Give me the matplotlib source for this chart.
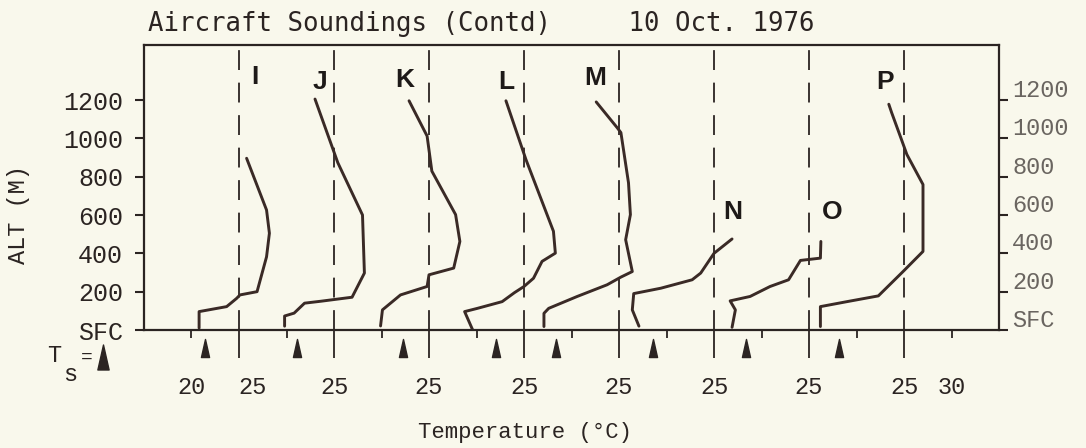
import numpy as np
import matplotlib.pyplot as plt
from matplotlib.path import Path
from matplotlib.lines import Line2D
from matplotlib.transforms import ScaledTranslation

# soundings, each one shifted 10 C to the right of the previous
names = ['I', 'J', 'K', 'L', 'M', 'N', 'O', 'P']

# temperature (C) and altitude (m)
temp_I = [20.8, 20.8, 23.7, 24.75, 25.1, 26.9, 27.9, 28.2, 27.9, 25.8]
alt_I = [10, 96, 122, 165, 183, 200, 382, 505, 626, 896]
temp_J = [19.8, 19.8, 20.8, 21.9, 23.6, 26.9, 28.2, 28.0, 25.4, 23.0]
alt_J = [20, 73, 88, 140, 150, 171, 297, 600, 873, 1205]
temp_K = [19.9, 20.1, 22.0, 24.8, 25.0, 27.6, 28.25, 27.8, 25.3, 24.8, 22.9]
alt_K = [21, 105, 183, 227, 288, 323, 462, 602, 829, 1012, 1196]
temp_L = [19.6, 18.75, 20.1, 22.7, 24.0, 25.0, 26.0, 26.9, 28.3, 28.1, 25.2, 23.1]
alt_L = [0, 96, 113, 148, 195, 227, 270, 358, 401, 515, 890, 1196]
temp_M = [17.1, 17.1, 17.6, 20.6, 23.75, 25.2, 26.4, 25.7, 26.2, 26.0, 25.2, 24.8, 22.6]
alt_M = [18, 87, 113, 175, 236, 276, 305, 471, 602, 768, 1030, 1056, 1190]
temp_N = [17.1, 16.4, 16.55, 19.4, 22.7, 23.6, 25.0, 26.9]
alt_N = [20, 105, 190, 218, 262, 297, 400, 475]
temp_O = [16.9, 17.25, 16.7, 18.8, 20.9, 22.85, 24.1, 26.2, 26.25]
alt_O = [14, 105, 152, 175, 227, 262, 363, 375, 462]
temp_P = [16.2, 16.2, 19.0, 22.3, 24.9, 27.0, 27.0, 25.3, 24.6, 23.7, 23.4]
alt_P = [18, 122, 148, 178, 305, 410, 759, 916, 1012, 1134, 1178]

temps = [temp_I, temp_J, temp_K, temp_L, temp_M, temp_N, temp_O, temp_P]
alts = [alt_I, alt_J, alt_K, alt_L, alt_M, alt_N, alt_O, alt_P]

# surface temperature T_s (arrows)
surface_temp = [21.4, 21.1, 22.3, 22.1, 18.4, 18.6, 18.4, 18.2]

# where the letters sit (temperature, altitude)
label_temp = [26.7, 23.5, 22.4, 23.1, 22.5, 27.0, 27.4, 23.0]
label_alt = [1320, 1294, 1304, 1294, 1314, 616, 616, 1294]

alt_ticks = [0, 200, 400, 600, 800, 1000, 1200]
alt_labels = ['SFC', '200', '400', '600', '800', '1000', '1200']

bg = '#f9f8ec'
ink = '#2b2422'
curve_col = '#3a2a26'
mono = 'Liberation Mono'

fig = plt.figure(figsize=(10.86, 4.48), dpi=100)
fig.patch.set_facecolor(bg)
ax = fig.add_axes([144 / 1086, 118 / 448, 855 / 1086, 285 / 448])
ax.set_facecolor(bg)
ax.set_xlim(15, 105)
ax.set_ylim(0, 1487)

for i, name in enumerate(names):
    off = 10 * i
    ax.axvline(25 + off, color=ink, lw=1.3, ls=(0, (11, 7)))
    ax.plot(np.array(temps[i]) + off, alts[i], color=curve_col, lw=2.1,
            solid_joinstyle='round', solid_capstyle='round')
    ax.text(label_temp[i] + off, label_alt[i], name, ha='center', va='center',
            fontsize=19, fontweight='bold', family='Liberation Sans', color='#1e1a18')

arrow = Path([(0, 1), (-0.45, -1), (0.45, -1), (0, 1)],
             [Path.MOVETO, Path.LINETO, Path.LINETO, Path.CLOSEPOLY])
ax.plot(np.array(surface_temp) + 10 * np.arange(len(names)), [-94] * len(names),
        ls='none', marker=arrow, ms=13, color=ink, clip_on=False)

for s in ax.spines.values():
    s.set_linewidth(1.6)
    s.set_color(ink)

# bottom axis: long ticks at 25 C of each sounding, short ones at 20/30
major_x = [25 + 10 * i for i in range(len(names))]
minor_x = [20 + 10 * k for k in range(len(names) + 1)]
ax.set_xticks(major_x, ['25'] * len(major_x))
ax.set_xticks(minor_x, ['20'] + [''] * (len(minor_x) - 2) + ['30'], minor=True)
ax.tick_params(axis='x', which='major', direction='out', length=20, width=1.3,
               pad=13, labelsize=17, colors=ink)
ax.tick_params(axis='x', which='minor', direction='out', length=6, width=1.3,
               pad=27, labelsize=17, colors=ink)
for lab in ax.get_xticklabels(minor=True) + ax.get_xticklabels():
    lab.set_family(mono)
first = ax.get_xticklabels()[0]
first.set_transform(first.get_transform() + ScaledTranslation(0.14, 0, fig.dpi_scale_trans))

ax.set_yticks(alt_ticks, alt_labels)
ax.tick_params(axis='y', direction='out', length=6.5, width=1.5, pad=8.5,
               labelsize=18, colors=ink)
for lab in ax.get_yticklabels():
    lab.set_family(mono)

ax2 = ax.twinx()
ax2.set_ylim(ax.get_ylim())
ax2.set_yticks(alt_ticks, alt_labels)
ax2.tick_params(axis='y', direction='out', length=6.5, width=1.5, pad=3,
                labelsize=17, colors=ink, labelcolor='#6a6560')
for lab in ax2.get_yticklabels():
    lab.set_family(mono)
    lab.set_transform(lab.get_transform() + ScaledTranslation(0, 0.12, fig.dpi_scale_trans))
for s in ax2.spines.values():
    s.set_visible(False)

fig.text(148 / 1086, 1 - 24 / 448, 'Aircraft Soundings (Contd)     10 Oct. 1976',
         family='DejaVu Sans Mono', fontsize=18.5, va='center', ha='left', color=ink)
fig.text(19 / 1086, 1 - 215 / 448, 'ALT (M)', rotation=90, family=mono,
         fontsize=17, va='center', ha='center', color=ink)
fig.text(525 / 1086, 1 - 432 / 448, 'Temperature (°C)', family=mono,
         fontsize=16, va='center', ha='center', color=ink)

# T_s = (arrow) key on the left
fig.text(54 / 1086, 1 - 356 / 448, 'T', family=mono, fontsize=17, ha='center', va='center', color=ink)
fig.text(70 / 1086, 1 - 374 / 448, 's', family=mono, fontsize=17, ha='center', va='center', color=ink)
fig.text(87 / 1086, 1 - 357 / 448, '=', family=mono, fontsize=14, ha='center', va='center', color=ink)
fig.add_artist(Line2D([103 / 1086], [1 - 357 / 448], transform=fig.transFigure,
                      ls='none', marker=arrow, ms=18, color=ink))

fig.savefig('out.png', dpi=100, facecolor=bg)
